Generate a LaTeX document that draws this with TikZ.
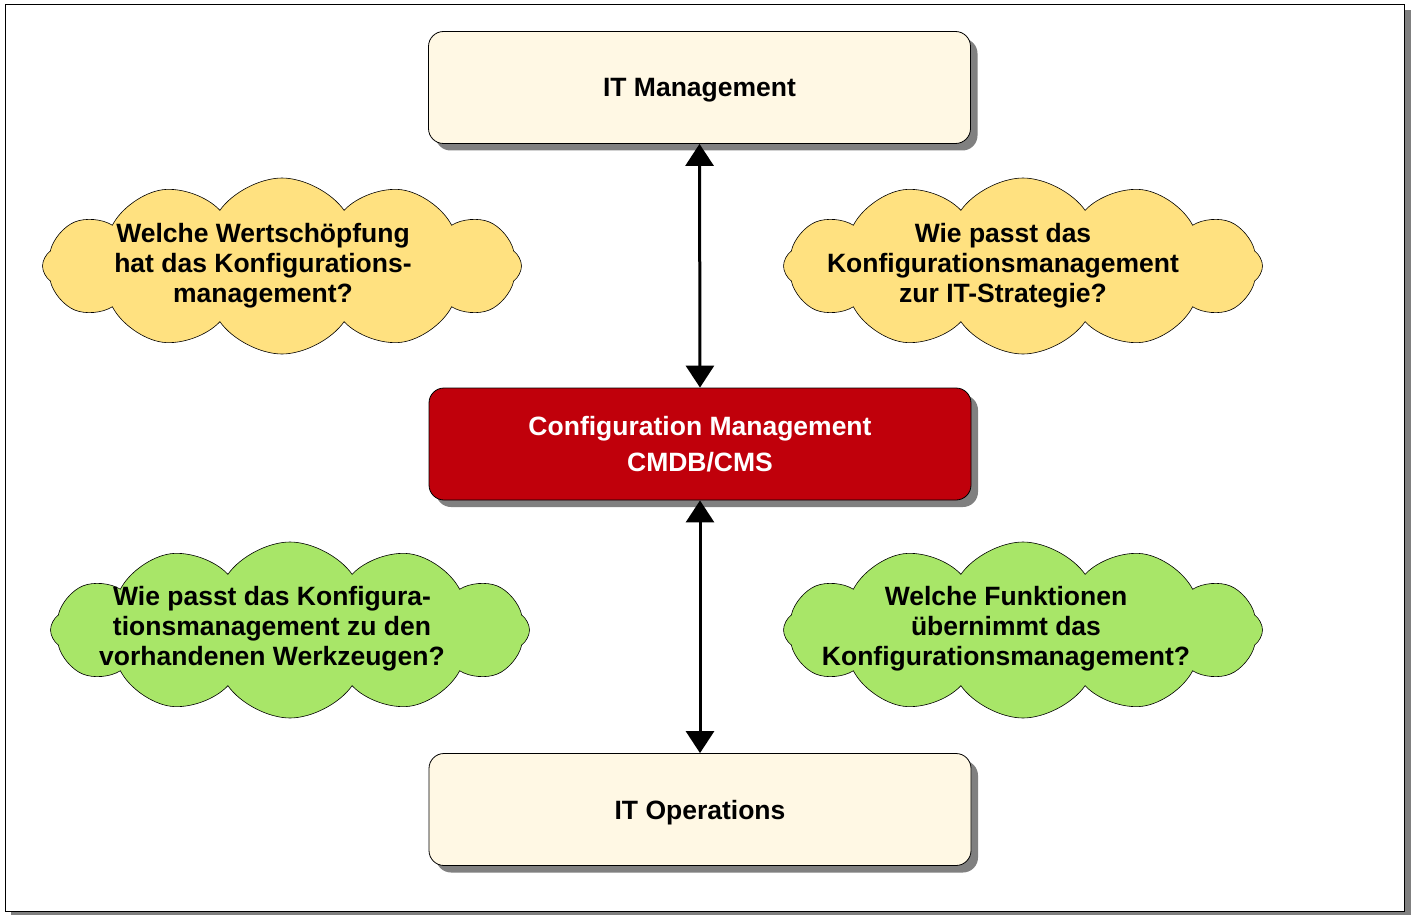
\documentclass[tikz,border=0pt]{standalone}
\usepackage{fontspec}
\setmainfont{Liberation Sans}
\usepackage{xcolor}
\usetikzlibrary{arrows.meta,shapes.symbols,shadows}

\definecolor{boxcream}{RGB}{255,248,228}
\definecolor{cmdbred}{RGB}{192,0,11}
\definecolor{cloudyellow}{RGB}{255,225,128}
\definecolor{cloudgreen}{RGB}{168,230,104}
\definecolor{shadowgray}{RGB}{128,128,128}

\begin{document}
\begin{tikzpicture}[x=1pt,y=-1pt,
    itbox/.style={draw=black,line width=0.8pt,rounded corners=15pt,
      minimum width=542pt,minimum height=112pt,inner sep=0pt,text depth=0pt,
      font=\fontsize{26.5}{36}\selectfont\bfseries,align=center,
      drop shadow={shadow xshift=7pt,shadow yshift=-7pt,fill=shadowgray,opacity=1}},
    qcloud/.style={cloud,cloud puffs=12,cloud puff arc=110,cloud ignores aspect,
      draw=black,line width=0.6pt,fill=#1,inner sep=0pt,
      minimum width=479pt,minimum height=176pt},
    question/.style={align=center,inner sep=0pt,
      font=\fontsize{26.5}{30}\selectfont\bfseries},
    link/.style={line width=3pt,{Triangle[length=22pt,width=28pt]}-{Triangle[length=22pt,width=28pt]}}]
  \useasboundingbox (0,0) rectangle (1411,915);
  	% frame
  	\fill[shadowgray] (11,10) rectangle (1411,917);
  	\draw[fill=white,line width=0.8pt] (5,4) rectangle (1404,911);
  	% boxes
  	\node[itbox,fill=boxcream] (itm) at (699.5,87.5) {IT Management};
  	\node[itbox,fill=cmdbred,text=white] (cm) at (700,444) {Configuration Management\\CMDB/CMS};
  	\node[itbox,fill=boxcream] (ito) at (700,809.5) {IT Operations};
  	% links
  	\draw[link] (itm.south) -- (cm.north);
  	\draw[link] (cm.south) -- (ito.north);
  	% clouds
  	\node[qcloud=cloudyellow] (wert) at (282,266) {};
  	\node[question] (wert text) at (263,266) {Welche Wertschöpfung\\hat das Konfigurations-\\management?};
  	\node[qcloud=cloudyellow] (strat) at (1023,266) {};
  	\node[question] (strat text) at (1003,266) {Wie passt das\\Konfigurationsmanagement\\zur IT-Strategie?};
  	\node[qcloud=cloudgreen] (werk) at (290,630) {};
  	\node[question] (werk text) at (272,629) {Wie passt das Konfigura-\\tionsmanagement zu den\\vorhandenen Werkzeugen?};
  	\node[qcloud=cloudgreen] (funk) at (1023,630) {};
  	\node[question] (funk text) at (1006,629) {Welche Funktionen\\übernimmt das\\Konfigurationsmanagement?};
\end{tikzpicture}
\end{document}
